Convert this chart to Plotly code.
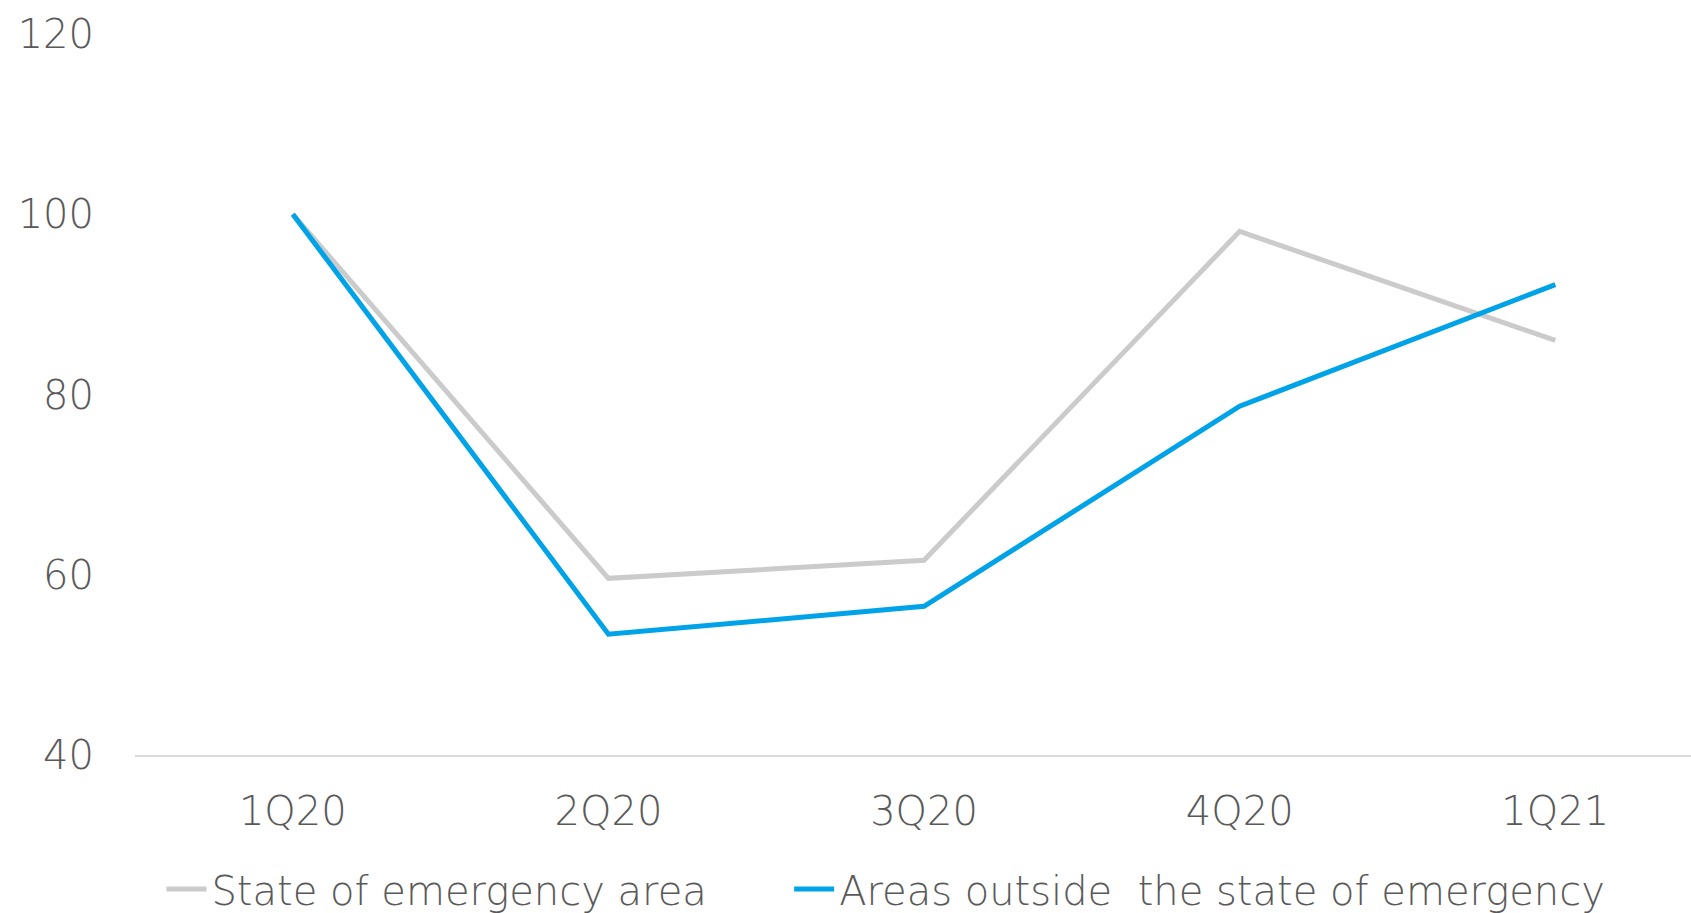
import plotly.graph_objects as go

quarters = ["1Q20", "2Q20", "3Q20", "4Q20", "1Q21"]
emergency_area = [100.0, 59.6, 61.6, 98.1, 86.0]
outside_area = [100.0, 53.4, 56.5, 78.7, 92.2]

TEXT = "#595959"
FONT = dict(family="DejaVu Sans", size=40, color=TEXT, weight=200)

x_idx = list(range(len(quarters)))

fig = go.Figure()
fig.add_trace(go.Scatter(
    x=x_idx, y=emergency_area, mode="lines",
    name="State of emergency area",
    line=dict(color="#CBCBCB", width=5),
    legend="legend",
))
fig.add_trace(go.Scatter(
    x=x_idx, y=outside_area, mode="lines",
    name="Areas outside\u00a0 the state of emergency",
    line=dict(color="#00A3E8", width=5),
    legend="legend2",
))

legend_common = dict(
    orientation="h", yanchor="middle", y=-0.186, xanchor="left",
    font=FONT, itemwidth=40, bgcolor="rgba(0,0,0,0)",
)

fig.update_layout(
    width=1691, height=913,
    margin=dict(l=135, r=0, t=34, b=158, autoexpand=False),
    paper_bgcolor="white", plot_bgcolor="white",
    font=FONT,
    showlegend=True,
    legend=dict(legend_common, x=0.017),
    legend2=dict(legend_common, x=0.4204),
    xaxis=dict(
        tickmode="array", tickvals=x_idx, ticktext=quarters,
        range=[-0.5, 4.43], showgrid=False, zeroline=False,
        showline=True, linecolor="#D9D9D9", linewidth=2,
        ticks="", ticklabelstandoff=20, tickfont=FONT,
    ),
    yaxis=dict(
        range=[40, 120], tickvals=[40, 60, 80, 100, 120],
        showgrid=False, zeroline=False, showline=False,
        ticks="", ticklabelstandoff=40, tickfont=FONT,
    ),
)

fig.write_html("out.html")
